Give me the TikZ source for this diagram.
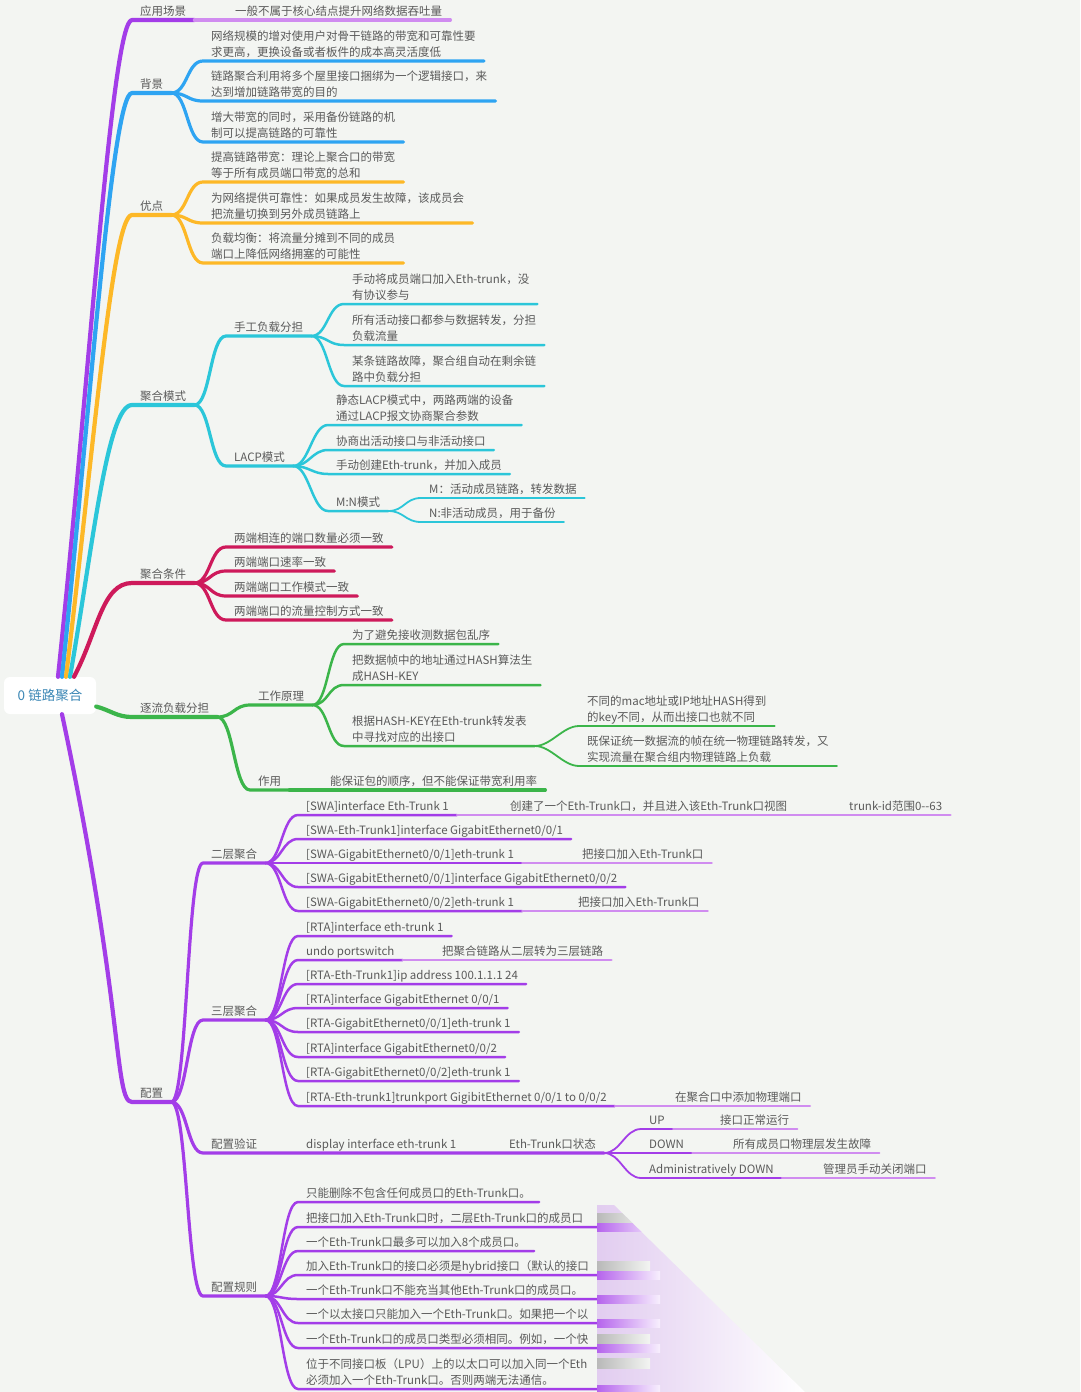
\documentclass[tikz,border=0pt]{standalone}
\usepackage{fontspec}
\setmainfont{Noto Sans CJK SC}
\definecolor{bgcol}{HTML}{F3F5F2}
\definecolor{txtgray}{HTML}{5A5A5A}
\definecolor{rootblue}{HTML}{3B87B5}
\definecolor{mypurple}{HTML}{A33DE8}
\definecolor{mylilac}{HTML}{D08CF0}
\definecolor{myblue}{HTML}{2EA4F2}
\definecolor{myorange}{HTML}{FDB827}
\definecolor{mycyan}{HTML}{2BC6D9}
\definecolor{mycrimson}{HTML}{CE1A5B}
\definecolor{mygreen}{HTML}{3BB54A}

\begin{document}
\begin{tikzpicture}[
		x=1pt,
		y=-1pt,
		line cap=round,
		line join=round,
		every node/.style={font=\fontsize{11.5}{16}\selectfont,text=txtgray},
		lbl/.style={anchor=south west,inner xsep=8pt,inner ysep=2pt,text depth=2pt,align=left},
		cutlbl/.style={lbl,text width=310pt},
		rootbox/.style={rounded corners=6pt,fill=white,minimum width=92pt,minimum height=37pt,font=\fontsize{13.5}{16}\selectfont,text=rootblue},
		twig/.style={out=0,in=180,out distance=#1,in distance=#1},
		twig/.default=16pt,
		trunk/.style={line width=4.2pt},
		limb/.style={line width=3.2pt},
		leaf/.style={line width=2.5pt},
		fine/.style={line width=1.8pt}
	]
	
	% Page
	\fill[bgcol] (0,0) rectangle (1080,1392);
	\useasboundingbox (0,0) rectangle (1080,1392);
	
	% Root
	\node[rootbox] (root) at (50,695.5) {0 链路聚合};
	
	% Application branch
	\node[lbl] (app) at (132,20) {应用场景};
	\node[lbl] (appA) at (227,20) {一般不属于核心结点提升网络数据吞吐量};
	\draw[trunk,mypurple] ([xshift=8]root.north) to[out=84,in=180,out distance=300pt,in distance=20pt] (app.south west) -- (app.south east);
	\draw[limb,mylilac] (app.south east) -- (appA.south west) -- (appA.south east);
	
	% Background branch
	\node[lbl] (bg) at (132,93) {背景};
	\node[lbl] (bgA) at (203,61) {网络规模的增对使用户对骨干链路的带宽和可靠性要\\求更高，更换设备或者板件的成本高灵活度低};
	\node[lbl] (bgB) at (203,101) {链路聚合利用将多个屋里接口捆绑为一个逻辑接口，来\\达到增加链路带宽的目的};
	\node[lbl] (bgC) at (203,142) {增大带宽的同时，采用备份链路的机\\制可以提高链路的可靠性};
	\draw[trunk,myblue] ([xshift=12]root.north) to[out=84,in=180,out distance=270pt,in distance=20pt] (bg.south west) -- (bg.south east);
	\foreach \k in {bgA,bgB,bgC}
		\draw[limb,myblue] (bg.south east) to[twig] (\k.south west) -- (\k.south east);
	
	% Advantages branch
	\node[lbl] (adv) at (132,215) {优点};
	\node[lbl] (advA) at (203,182) {提高链路带宽：理论上聚合口的带宽\\等于所有成员端口带宽的总和};
	\node[lbl] (advB) at (203,223) {为网络提供可靠性：如果成员发生故障，该成员会\\把流量切换到另外成员链路上};
	\node[lbl] (advC) at (203,263) {负载均衡：将流量分摊到不同的成员\\端口上降低网络拥塞的可能性};
	\draw[trunk,myorange] ([xshift=16]root.north) to[out=83,in=180,out distance=220pt,in distance=20pt] (adv.south west) -- (adv.south east);
	\foreach \k in {advA,advB,advC}
		\draw[limb,myorange] (adv.south east) to[twig] (\k.south west) -- (\k.south east);
	
	% Mode branch
	\node[lbl] (mode) at (132,405) {聚合模式};
	\node[lbl] (man) at (226,336) {手工负载分担};
	\node[lbl] (manA) at (344,304) {手动将成员端口加入Eth-trunk，没\\有协议参与};
	\node[lbl] (manB) at (344,345) {所有活动接口都参与数据转发，分担\\负载流量};
	\node[lbl] (manC) at (344,386) {某条链路故障，聚合组自动在剩余链\\路中负载分担};
	\node[lbl] (lacp) at (226,466) {LACP模式};
	\node[lbl] (lacpA) at (328,425) {静态LACP模式中，两路两端的设备\\通过LACP报文协商聚合参数};
	\node[lbl] (lacpB) at (328,450) {协商出活动接口与非活动接口};
	\node[lbl] (lacpC) at (328,474) {手动创建Eth-trunk，并加入成员};
	\node[lbl] (mn) at (328,511) {M:N模式};
	\node[lbl] (mnA) at (421,498) {M：活动成员链路，转发数据};
	\node[lbl] (mnB) at (421,522) {N:非活动成员，用于备份};
	\draw[trunk,mycyan] ([xshift=20]root.north) to[out=80,in=180,out distance=130pt,in distance=25pt] (mode.south west) -- (mode.south east);
	\foreach \k in {man,lacp}
		\draw[limb,mycyan] (mode.south east) to[twig] (\k.south west) -- (\k.south east);
	\foreach \k in {manA,manB,manC}
		\draw[leaf,mycyan] (man.south east) to[twig] (\k.south west) -- (\k.south east);
	\foreach \k in {lacpA,lacpB,lacpC,mn}
		\draw[leaf,mycyan] (lacp.south east) to[twig] (\k.south west) -- (\k.south east);
	\foreach \k in {mnA,mnB}
		\draw[fine,mycyan] (mn.south east) to[twig] (\k.south west) -- (\k.south east);
	
	% Conditions branch
	\node[lbl] (cond) at (132,583) {聚合条件};
	\node[lbl] (condA) at (226,547) {两端相连的端口数量必须一致};
	\node[lbl] (condB) at (226,571) {两端端口速率一致};
	\node[lbl] (condC) at (226,596) {两端端口工作模式一致};
	\node[lbl] (condD) at (226,620) {两端端口的流量控制方式一致};
	\draw[trunk,mycrimson] ([xshift=24]root.north) to[out=62,in=180,out distance=50pt,in distance=30pt] (cond.south west) -- (cond.south east);
	\foreach \k in {condA,condB,condC,condD}
		\draw[limb,mycrimson] (cond.south east) to[twig] (\k.south west) -- (\k.south east);
	
	% Per-flow load sharing branch
	\node[lbl] (flow) at (132,717) {逐流负载分担};
	\node[lbl] (work) at (250,705) {工作原理};
	\node[lbl] (workA) at (344,644) {为了避免接收测数据包乱序};
	\node[lbl] (workB) at (344,685) {把数据帧中的地址通过HASH算法生\\成HASH-KEY};
	\node[lbl] (workC) at (344,746) {根据HASH-KEY在Eth-trunk转发表\\中寻找对应的出接口};
	\node[lbl] (hashA) at (579,726) {不同的mac地址或IP地址HASH得到\\的key不同，从而出接口也就不同};
	\node[lbl] (hashB) at (579,766) {既保证统一数据流的帧在统一物理链路转发，又\\实现流量在聚合组内物理链路上负载};
	\node[lbl] (use) at (250,790) {作用};
	\node[lbl] (useA) at (322,790) {能保证包的顺序，但不能保证带宽利用率};
	\draw[trunk,mygreen] ([yshift=-11]root.east) to[out=-15,in=180,out distance=15pt,in distance=15pt] (flow.south west) -- (flow.south east);
	\foreach \k in {work,use}
		\draw[limb,mygreen] (flow.south east) to[twig] (\k.south west) -- (\k.south east);
	\draw[limb,mygreen] (use.south east) -- (useA.south west) -- (useA.south east);
	\foreach \k in {workA,workB,workC}
		\draw[leaf,mygreen] (work.south east) to[twig] (\k.south west) -- (\k.south east);
	\foreach \k in {hashA,hashB}
		\draw[fine,mygreen] (workC.south east) to[twig] (\k.south west) -- (\k.south east);
	
	% Configuration branch
	\node[lbl] (cfg) at (132,1102) {配置};
	\draw[trunk,mypurple] ([xshift=12]root.south) to[out=-78,in=180,out distance=300pt,in distance=18pt] (cfg.south west) -- (cfg.south east);
	
	% Layer 2 aggregation
	\node[lbl] (lay2) at (203,863) {二层聚合};
	\node[lbl] (swA) at (298,815) {[SWA]interface Eth-Trunk 1};
	\node[lbl] (swAa) at (502,815) {创建了一个Eth-Trunk口，并且进入该Eth-Trunk口视图};
	\node[lbl] (swAb) at (841,815) {trunk-id范围0-{}-63};
	\node[lbl] (swB) at (298,839) {[SWA-Eth-Trunk1]interface GigabitEthernet0/0/1};
	\node[lbl] (swC) at (298,863) {[SWA-GigabitEthernet0/0/1]eth-trunk 1};
	\node[lbl] (swCa) at (574,863) {把接口加入Eth-Trunk口};
	\node[lbl] (swD) at (298,887) {[SWA-GigabitEthernet0/0/1]interface GigabitEthernet0/0/2};
	\node[lbl] (swE) at (298,911) {[SWA-GigabitEthernet0/0/2]eth-trunk 1};
	\node[lbl] (swEa) at (570,911) {把接口加入Eth-Trunk口};
	\draw[limb,mypurple] (cfg.south east) to[twig] (lay2.south west) -- (lay2.south east);
	\foreach \k in {swA,swB,swC,swD,swE}
		\draw[leaf,mypurple] (lay2.south east) to[twig] (\k.south west) -- (\k.south east);
	\draw[leaf,mylilac] (swA.south east) -- (swAa.south west) -- (swAa.south east) -- (swAb.south west) -- (swAb.south east);
	\draw[leaf,mylilac] (swC.south east) -- (swCa.south west) -- (swCa.south east);
	\draw[leaf,mylilac] (swE.south east) -- (swEa.south west) -- (swEa.south east);
	
	% Layer 3 aggregation
	\node[lbl] (lay3) at (203,1020) {三层聚合};
	\node[lbl] (rtA) at (298,936) {[RTA]interface eth-trunk 1};
	\node[lbl] (rtB) at (298,960) {undo portswitch};
	\node[lbl] (rtBa) at (434,960) {把聚合链路从二层转为三层链路};
	\node[lbl] (rtC) at (298,984) {[RTA-Eth-Trunk1]ip address 100.1.1.1 24};
	\node[lbl] (rtD) at (298,1008) {[RTA]interface GigabitEthernet 0/0/1};
	\node[lbl] (rtE) at (298,1032) {[RTA-GigabitEthernet0/0/1]eth-trunk 1};
	\node[lbl] (rtF) at (298,1057) {[RTA]interface GigabitEthernet0/0/2};
	\node[lbl] (rtG) at (298,1081) {[RTA-GigabitEthernet0/0/2]eth-trunk 1};
	\node[lbl] (rtH) at (298,1106) {[RTA-Eth-trunk1]trunkport GigibitEthernet 0/0/1 to 0/0/2};
	\node[lbl] (rtHa) at (667,1106) {在聚合口中添加物理端口};
	\draw[limb,mypurple] (cfg.south east) to[twig] (lay3.south west) -- (lay3.south east);
	\foreach \k in {rtA,rtB,rtC,rtD,rtE,rtF,rtG,rtH}
		\draw[leaf,mypurple] (lay3.south east) to[twig] (\k.south west) -- (\k.south east);
	\draw[leaf,mylilac] (rtB.south east) -- (rtBa.south west) -- (rtBa.south east);
	\draw[leaf,mylilac] (rtH.south east) -- (rtHa.south west) -- (rtHa.south east);
	
	% Verification
	\node[lbl] (chk) at (203,1153) {配置验证};
	\node[lbl] (chkA) at (298,1153) {display interface eth-trunk 1};
	\node[lbl] (chkB) at (501,1153) {Eth-Trunk口状态};
	\node[lbl] (upS) at (641,1129) {UP};
	\node[lbl] (upT) at (712,1129) {接口正常运行};
	\node[lbl] (dnS) at (641,1153) {DOWN};
	\node[lbl] (dnT) at (725,1153) {所有成员口物理层发生故障};
	\node[lbl] (adS) at (641,1178) {Administratively DOWN};
	\node[lbl] (adT) at (815,1178) {管理员手动关闭端口};
	\draw[limb,mypurple] (cfg.south east) to[twig] (chk.south west) -- (chk.south east) -- (chkA.south west) -- (chkA.south east) -- (chkB.south west) -- (chkB.south east);
	\foreach \k/\t in {upS/upT,dnS/dnT,adS/adT} {
		\draw[fine,mypurple] (chkB.south east) to[twig] (\k.south west) -- (\k.south east);
		\draw[fine,mylilac] (\k.south east) -- (\t.south west) -- (\t.south east);
	}
	
	% Rules
	\node[lbl] (rule) at (203,1296) {配置规则};
	\draw[limb,mypurple] (cfg.south east) to[twig] (rule.south west) -- (rule.south east);
	\begin{scope}
		\clip (0,0) rectangle (597,1392);
		\node[lbl] (ruleA) at (298,1202) {只能删除不包含任何成员口的Eth-Trunk口。};
		\node[cutlbl] (ruleB) at (298,1227) {把接口加入Eth-Trunk口时，二层Eth-Trunk口的成员口};
		\node[lbl] (ruleC) at (298,1251) {一个Eth-Trunk口最多可以加入8个成员口。};
		\node[cutlbl] (ruleD) at (298,1275) {加入Eth-Trunk口的接口必须是hybrid接口（默认的接口};
		\node[cutlbl] (ruleE) at (298,1299) {一个Eth-Trunk口不能充当其他Eth-Trunk口的成员口。};
		\node[cutlbl] (ruleF) at (298,1323) {一个以太接口只能加入一个Eth-Trunk口。如果把一个以};
		\node[cutlbl] (ruleG) at (298,1348) {一个Eth-Trunk口的成员口类型必须相同。例如，一个快};
		\node[cutlbl,text depth=18pt] (ruleH) at (298,1389) {位于不同接口板（LPU）上的以太口可以加入同一个Eth\\必须加入一个Eth-Trunk口。否则两端无法通信。};
		\foreach \k in {ruleA,ruleB,ruleC,ruleD,ruleE,ruleF,ruleG,ruleH}
			\draw[leaf,mypurple] (rule.south east) to[twig] (\k.south west) -- (\k.south east);
	\end{scope}
	
	% Torn corner of the capture
	\begin{scope}
		\clip (597,1205) -- (614,1205) -- (805,1392) -- (597,1392) -- cycle;
		\shade[left color=mypurple!22!bgcol,right color=white] (597,1205) rectangle (805,1392);
		\foreach \y in {1218,1266,1339,1363}
			\shade[left color=gray!55,right color=bgcol] (597,\y-5) rectangle (650,\y+5);
		\foreach \y in {1227,1275,1299,1323,1348,1389}
			\shade[left color=mypurple!80,right color=mypurple!8!white] (597,\y-4) rectangle (660,\y+4);
	\end{scope}
	
\end{tikzpicture}
\end{document}
